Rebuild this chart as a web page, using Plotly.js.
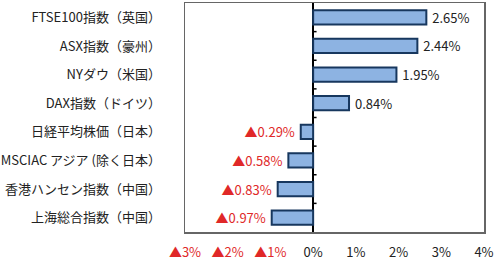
<!DOCTYPE html>
<html>
<head>
<meta charset="utf-8">
<script src="https://cdn.plot.ly/plotly-3.0.1.min.js"></script>
<style>html,body{margin:0;padding:0;background:#fff;}#chart{width:500px;height:263px;}</style>
</head>
<body>
<div id="chart"></div>
<script>
const categories = ["FTSE100指数（英国）","ASX指数（豪州）","NYダウ（米国）","DAX指数（ドイツ）","日経平均株価（日本）","MSCIAC アジア (除く日本）","香港ハンセン指数（中国）","上海総合指数（中国）"];
const values = [2.65, 2.44, 1.95, 0.84, -0.29, -0.58, -0.83, -0.97];
const tickVals = [-3, -2, -1, 0, 1, 2, 3, 4];
const tickText = ["▲3%", "▲2%", "▲1%", "0%", "1%", "2%", "3%", "4%"];

const RED = "#e02828";
const FONT = "'Noto Sans CJK JP', 'Noto Sans', sans-serif";

const labels = values.map(v => v < 0 ? "▲" + Math.abs(v).toFixed(2) + "% " : " " + v.toFixed(2) + "%");
const labelColors = values.map(v => v < 0 ? RED : "#222222");
const ticktextStyled = tickVals.map((v, i) => v < 0 ? `<span style="color:${RED}">${tickText[i]}</span>` : tickText[i]);

const shapes = [];
for (let i = 0; i < categories.length - 1; i++) {
  shapes.push({type: "line", xref: "x", yref: "y", x0: 0, x1: 0.08, y0: i + 0.5, y1: i + 0.5,
    line: {color: "#000", width: 1.5}});
}

const trace = {
  type: "bar", orientation: "h",
  x: values, y: categories,
  width: 0.5,
  marker: {color: "#8db3e2", line: {color: "#17375e", width: 2}},
  text: labels, textposition: "outside", cliponaxis: false, constraintext: "none",
  textfont: {family: FONT, size: 13, color: labelColors},
  hoverinfo: "skip"
};

const layout = {
  width: 500, height: 263,
  margin: {l: 185, r: 16, t: 3, b: 31, pad: 0},
  paper_bgcolor: "#fff", plot_bgcolor: "#fff",
  showlegend: false,
  font: {family: FONT, size: 13, color: "#222"},
  xaxis: {
    range: [-3, 4], tickvals: tickVals, ticktext: ticktextStyled,
    showgrid: false, zeroline: true, zerolinecolor: "#000", zerolinewidth: 2,
    showline: true, mirror: true, linecolor: "#666", linewidth: 1.5,
    ticks: "", ticklabelstandoff: 8, fixedrange: true,
    tickfont: {family: FONT, size: 13, color: "#222"}
  },
  yaxis: {
    type: "category", autorange: "reversed",
    showgrid: false, zeroline: false,
    showline: true, mirror: true, linecolor: "#666", linewidth: 1.5,
    ticks: "", ticklabelstandoff: 20, fixedrange: true,
    tickfont: {family: FONT, size: 13, color: "#222"}
  },
  bargap: 0.5,
  shapes: shapes
};

Plotly.newPlot("chart", [trace], layout, {displayModeBar: false, staticPlot: true});
</script>
</body>
</html>
